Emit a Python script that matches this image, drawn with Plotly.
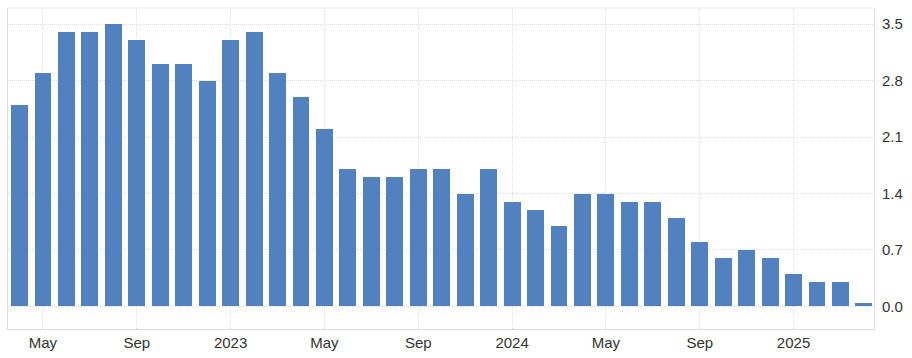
import plotly.graph_objects as go

months = ["Apr 2022", "May 2022", "Jun 2022", "Jul 2022", "Aug 2022", "Sep 2022", "Oct 2022",
          "Nov 2022", "Dec 2022", "Jan 2023", "Feb 2023", "Mar 2023", "Apr 2023", "May 2023",
          "Jun 2023", "Jul 2023", "Aug 2023", "Sep 2023", "Oct 2023", "Nov 2023", "Dec 2023",
          "Jan 2024", "Feb 2024", "Mar 2024", "Apr 2024", "May 2024", "Jun 2024", "Jul 2024",
          "Aug 2024", "Sep 2024", "Oct 2024", "Nov 2024", "Dec 2024", "Jan 2025", "Feb 2025",
          "Mar 2025", "Apr 2025"]
values = [2.5, 2.9, 3.4, 3.4, 3.5, 3.3, 3.0, 3.0, 2.8, 3.3, 3.4, 2.9, 2.6, 2.2,
          1.7, 1.6, 1.6, 1.7, 1.7, 1.4, 1.7, 1.3, 1.2, 1.0, 1.4, 1.4, 1.3, 1.3,
          1.1, 0.8, 0.6, 0.7, 0.6, 0.4, 0.3, 0.3, 0.04]
xtick_idx = [1, 5, 9, 13, 17, 21, 25, 29, 33]
xtick_text = ["May", "Sep", "2023", "May", "Sep", "2024", "May", "Sep", "2025"]
ytick_vals = [0.0, 0.7, 1.4, 2.1, 2.8, 3.5]

x = list(range(len(months)))

fig = go.Figure(go.Bar(
    x=x, y=values, width=0.72,
    marker=dict(color="#5181bf", line=dict(width=0)),
    customdata=months, hovertemplate="%{customdata}: %{y}<extra></extra>",
))

fig.update_layout(
    width=912, height=358,
    margin=dict(l=7, r=38, t=8, b=26),
    paper_bgcolor="white", plot_bgcolor="white",
    showlegend=False,
    font=dict(family="Arial, Liberation Sans, sans-serif", size=15, color="#333333"),
    bargap=0,
)
fig.update_xaxes(
    range=[-0.49, 36.43],
    tickmode="array", tickvals=xtick_idx, ticktext=xtick_text,
    showgrid=True, gridcolor="#dedede", griddash="1px,1px", gridwidth=1,
    showline=True, linecolor="#dcdcdc", linewidth=1,
    ticks="", zeroline=False,
)
fig.update_yaxes(
    side="right", range=[-0.28, 3.70],
    tickmode="array", tickvals=ytick_vals, ticktext=[f"{v:.1f}" for v in ytick_vals],
    showgrid=True, gridcolor="#dedede", griddash="1px,1px", gridwidth=1,
    showline=True, mirror=True, linecolor="#dcdcdc", linewidth=1,
    ticks="", zeroline=False, ticklabelstandoff=4,
)
fig.add_shape(type="line", xref="paper", yref="paper", x0=0, x1=1, y0=1, y1=1,
              line=dict(color="#dedede", width=1, dash="1px,1px"))

fig.write_html("out.html")
